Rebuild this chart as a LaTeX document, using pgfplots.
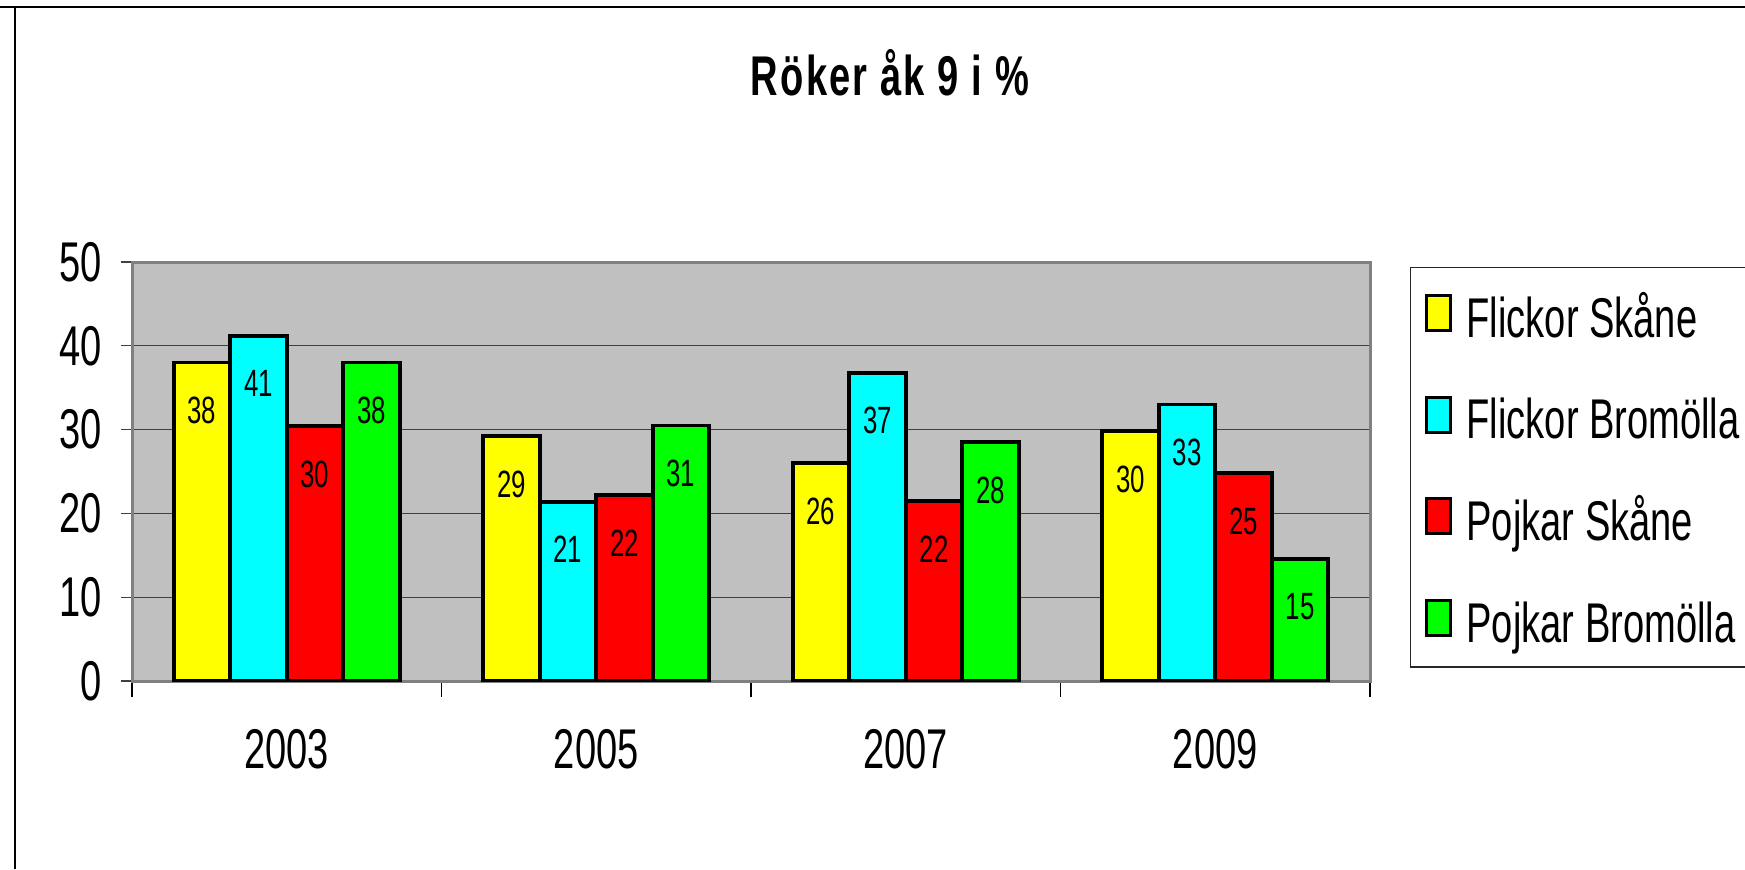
\documentclass[border=0pt]{standalone}
\usepackage{pgfplots}
\pgfplotsset{compat=1.18}
\usepackage{fontspec}
\setmainfont[FakeStretch=0.68]{Liberation Sans}
\definecolor{plotbg}{HTML}{C0C0C0}
\definecolor{spine}{HTML}{808080}
\definecolor{gridc}{HTML}{404040}
\definecolor{cYellow}{HTML}{FFFF00}
\definecolor{cCyan}{HTML}{00FFFF}
\definecolor{cRed}{HTML}{FF0000}
\definecolor{cGreen}{HTML}{00FF00}
\begin{document}
\begin{tikzpicture}
\useasboundingbox (0,0) rectangle (872.5pt,434.5pt);
\begin{axis}[
  at={(66pt,94pt)}, anchor=south west,
  scale only axis, width=619pt, height=209.5pt,
  xmin=-0.5, xmax=3.5, ymin=0, ymax=50,
  ybar=0pt, bar width=28.25pt,
  axis background/.style={fill=plotbg},
  xtick={0,1,2,3}, xticklabels={2003,2005,2007,2009},
  minor xtick={-0.5,0.5,1.5,2.5,3.5},
  ytick={0,10,20,30,40,50},
  /pgf/number format/assume math mode=true,
  ymajorgrids, grid style={draw=gridc, line width=0.6pt},
  tick align=outside, xtick pos=bottom, ytick pos=left,
  major tick length=5.5pt, minor tick length=8pt,
  major x tick style={draw=none},
  minor x tick style={draw=black, line width=0.6pt},
  major y tick style={draw=gridc, line width=0.6pt},
  axis line style={draw=spine, line width=1.5pt},
  tick label style={font=\fontsize{28}{30}\selectfont, inner sep=0pt},
  xticklabel style={yshift=-18.5pt},
  yticklabel style={xshift=-9.5pt},
  point meta=explicit symbolic,
  nodes near coords,
  every node near coord/.append style={font=\fontsize{19}{21}\selectfont, anchor=center, yshift=-24pt, inner sep=0pt, text=black},
  legend style={at={(1.0323,0.988)}, anchor=north west, draw=black!85, line width=0.6pt, fill=white,
    inner xsep=7pt, inner ysep=11pt, row sep=25.5pt, column sep=7.5pt,
    nodes={inner sep=0pt}, font=\fontsize{28}{34}\selectfont},
  legend cell align=left,
  legend image code/.code={\draw[#1, line width=1.5pt] (0pt,-7.8pt) rectangle (12pt,9.7pt);},
]
\addplot[draw=black, line width=1.9pt, fill=cYellow] coordinates {(0,38.0)[38] (1,29.2)[29] (2,26.0)[26] (3,29.8)[30]};
\addlegendentry{\strut Flickor Skåne}
\addplot[draw=black, line width=1.9pt, fill=cCyan] coordinates {(0,41.2)[41] (1,21.4)[21] (2,36.8)[37] (3,33.0)[33]};
\addlegendentry{\strut Flickor Bromölla\hspace{15pt}}
\addplot[draw=black, line width=1.9pt, fill=cRed] coordinates {(0,30.4)[30] (1,22.2)[22] (2,21.5)[22] (3,24.8)[25]};
\addlegendentry{\strut Pojkar Skåne}
\addplot[draw=black, line width=1.9pt, fill=cGreen] coordinates {(0,38.0)[38] (1,30.5)[31] (2,28.5)[28] (3,14.6)[15]};
\addlegendentry{\strut Pojkar Bromölla}
\end{axis}
\draw[black, line width=1.2pt] (0pt,431pt) -- (872.5pt,431pt);
\draw[black, line width=0.8pt] (7.5pt,0pt) -- (7.5pt,431pt);
\node[font=\fontsize{28}{30}\selectfont\bfseries\addfontfeatures{LetterSpace=4}, inner sep=0pt] at (445pt,398pt) {Röker åk 9 i \%};
\end{tikzpicture}
\end{document}
